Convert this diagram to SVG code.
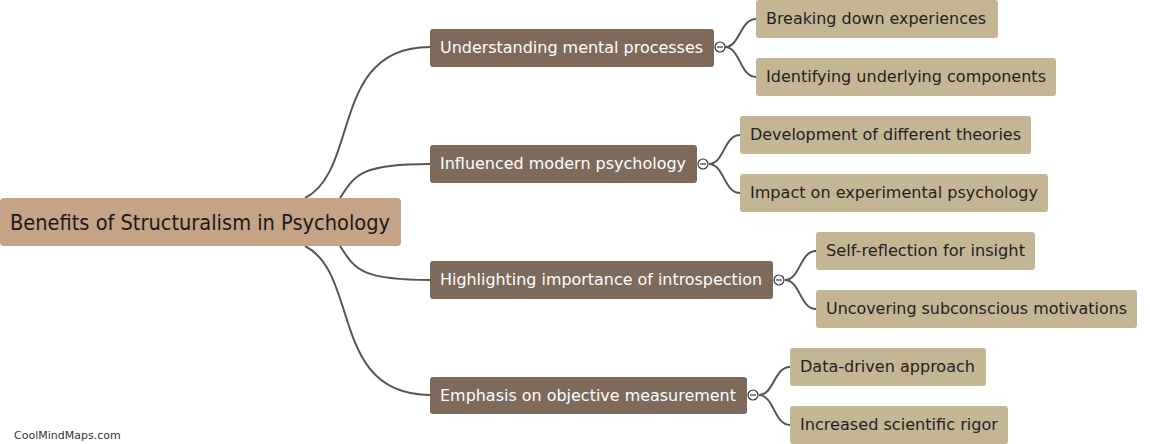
<svg xmlns="http://www.w3.org/2000/svg" width="1150" height="444" viewBox="0 0 1150 444">
<style>
.root{fill:#C4A386}
.l1{fill:#7E6A5B}
.l2{fill:#C4B594}
.t{font-family:"DejaVu Sans",Verdana,sans-serif}
.rt{font-size:22px;fill:#1a1a1a}
.t1{font-size:16px;fill:#ffffff}
.t2{font-size:16px;fill:#222222}
.c{fill:none;stroke:#555555;stroke-width:2}
.col{fill:#ffffff;stroke:#333333;stroke-width:1.2}
.wm{font-family:"DejaVu Sans",Verdana,sans-serif;font-size:11px;fill:#333}
</style>
<rect width="1150" height="444" fill="#ffffff"/>
<g id="connectors">
<path class="c" d="M305,198 C360,170 330,47 430,47"/>
<path class="c" d="M340,198 C355,175 360,164 430,164"/>
<path class="c" d="M340,246 C355,269 360,280 430,280"/>
<path class="c" d="M305,246 C360,274 330,395 430,395"/>
<path class="c" d="M725,47 C740,47 740,19 756,19"/>
<path class="c" d="M725,47 C740,47 740,77 756,77"/>
<path class="c" d="M709,164 C724,164 724,135 740,135"/>
<path class="c" d="M709,164 C724,164 724,193 740,193"/>
<path class="c" d="M785,280 C800,280 800,251 816,251"/>
<path class="c" d="M785,280 C800,280 800,309 816,309"/>
<path class="c" d="M759,395 C774,395 774,367 790,367"/>
<path class="c" d="M759,395 C774,395 774,425 790,425"/>
</g>
<g id="root">
<rect class="root" x="0" y="198" width="401" height="48" rx="4"/>
<text class="t rt" x="10" y="230" textLength="380" lengthAdjust="spacingAndGlyphs">Benefits of Structuralism in Psychology</text>
</g>
<g id="n1">
<rect class="l1" x="430" y="29" width="284" height="38" rx="3"/>
<text class="t t1" x="440" y="53" textLength="263" lengthAdjust="spacingAndGlyphs">Understanding mental processes</text>
<circle class="col" cx="720" cy="47" r="5"/><path d="M717,47h6" stroke="#333" stroke-width="1.2"/>
</g>
<g id="n2">
<rect class="l1" x="430" y="145" width="267" height="38" rx="3"/>
<text class="t t1" x="440" y="169" textLength="246" lengthAdjust="spacingAndGlyphs">Influenced modern psychology</text>
<circle class="col" cx="703" cy="164" r="5"/><path d="M700,164h6" stroke="#333" stroke-width="1.2"/>
</g>
<g id="n3">
<rect class="l1" x="430" y="261" width="343" height="38" rx="3"/>
<text class="t t1" x="440" y="285" textLength="322" lengthAdjust="spacingAndGlyphs">Highlighting importance of introspection</text>
<circle class="col" cx="779" cy="280" r="5"/><path d="M776,280h6" stroke="#333" stroke-width="1.2"/>
</g>
<g id="n4">
<rect class="l1" x="430" y="377" width="317" height="37" rx="3"/>
<text class="t t1" x="440" y="401" textLength="296" lengthAdjust="spacingAndGlyphs">Emphasis on objective measurement</text>
<circle class="col" cx="753" cy="395" r="5"/><path d="M750,395h6" stroke="#333" stroke-width="1.2"/>
</g>
<g id="n1a">
<rect class="l2" x="756" y="0" width="242" height="38" rx="3"/>
<text class="t t2" x="766" y="24" textLength="220" lengthAdjust="spacingAndGlyphs">Breaking down experiences</text>
</g>
<g id="n1b">
<rect class="l2" x="756" y="58" width="300" height="38" rx="3"/>
<text class="t t2" x="766" y="82" textLength="280" lengthAdjust="spacingAndGlyphs">Identifying underlying components</text>
</g>
<g id="n2a">
<rect class="l2" x="740" y="116" width="291" height="38" rx="3"/>
<text class="t t2" x="750" y="140" textLength="271" lengthAdjust="spacingAndGlyphs">Development of different theories</text>
</g>
<g id="n2b">
<rect class="l2" x="740" y="174" width="308" height="38" rx="3"/>
<text class="t t2" x="750" y="198" textLength="288" lengthAdjust="spacingAndGlyphs">Impact on experimental psychology</text>
</g>
<g id="n3a">
<rect class="l2" x="816" y="232" width="219" height="38" rx="3"/>
<text class="t t2" x="826" y="256" textLength="199" lengthAdjust="spacingAndGlyphs">Self-reflection for insight</text>
</g>
<g id="n3b">
<rect class="l2" x="816" y="290" width="321" height="38" rx="3"/>
<text class="t t2" x="826" y="314" textLength="301" lengthAdjust="spacingAndGlyphs">Uncovering subconscious motivations</text>
</g>
<g id="n4a">
<rect class="l2" x="790" y="348" width="196" height="38" rx="3"/>
<text class="t t2" x="800" y="372" textLength="175" lengthAdjust="spacingAndGlyphs">Data-driven approach</text>
</g>
<g id="n4b">
<rect class="l2" x="790" y="406" width="218" height="38" rx="3"/>
<text class="t t2" x="800" y="430" textLength="198" lengthAdjust="spacingAndGlyphs">Increased scientific rigor</text>
</g>
<text class="wm" x="14" y="439">CoolMindMaps.com</text>
</svg>
